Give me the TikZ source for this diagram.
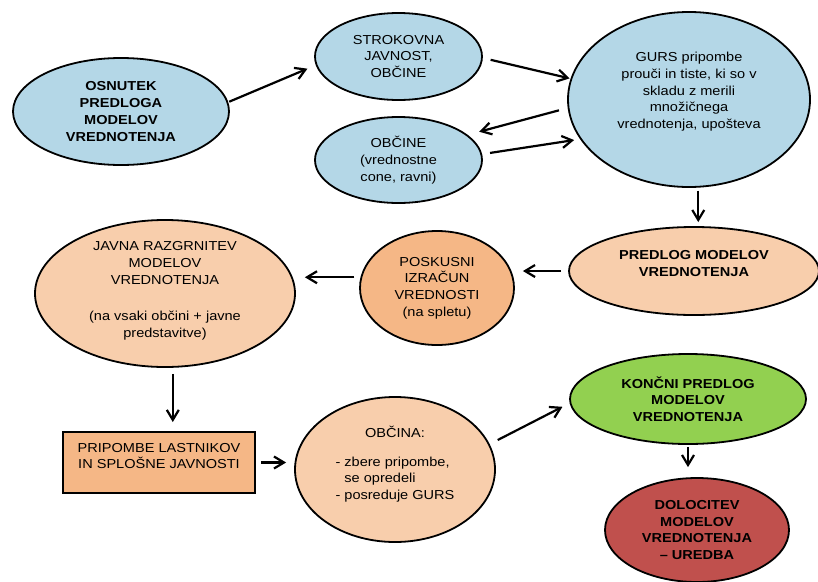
\documentclass[tikz,border=0pt]{standalone}
\usepackage{fontspec}
\setmainfont{Liberation Sans}[FakeStretch=1.12]
\usetikzlibrary{shapes.geometric,arrows.meta}

\definecolor{lightblue}{RGB}{180,215,231}
\definecolor{peach}{RGB}{248,206,172}
\definecolor{apricot}{RGB}{245,183,134}
\definecolor{leafgreen}{RGB}{146,208,80}
\definecolor{brickred}{RGB}{192,80,77}

\begin{document}
\begin{tikzpicture}[x=1pt,y=-1pt,
  font=\fontsize{13}{16.7}\selectfont,
  heavy/.style={font=\fontsize{13}{16.7}\selectfont\bfseries},
  blob/.style={ellipse,draw=black,line width=1.8pt,inner sep=0pt,align=center},
  arrow/.style={line width=2.2pt,-{Straight Barb[length=10pt,width=12pt]}}]
\useasboundingbox (0,0) rectangle (818,581);

% Draft and first comments
\node[blob,heavy,fill=lightblue,minimum width=216,minimum height=107] (osnutek) at (121,111.5) {OSNUTEK\\PREDLOGA\\MODELOV\\VREDNOTENJA};
\node[blob,fill=lightblue,minimum width=167,minimum height=87] (strokovna) at (398.5,56.5) {STROKOVNA\\JAVNOST,\\OBČINE};
\node[blob,fill=lightblue,minimum width=167,minimum height=86] (obcine) at (398.5,160) {OBČINE\\(vrednostne\\cone, ravni)};
\node[blob,fill=lightblue,minimum width=242,minimum height=175,text depth=18pt] (gurs) at (689,99.5) {GURS pripombe\\prouči in tiste, ki so v\\skladu z merili\\množičnega\\vrednotenja, upošteva};

% Proposal and public display
\node[blob,heavy,fill=peach,minimum width=250,minimum height=88,text depth=15pt] (predlog) at (694,271) {PREDLOG MODELOV\\VREDNOTENJA};
\node[blob,fill=apricot,minimum width=154,minimum height=114] (poskusni) at (437,288) {POSKUSNI\\IZRAČUN\\VREDNOSTI\\(na spletu)};
\node[blob,fill=peach,minimum width=260,minimum height=147,text depth=8pt] (razgrnitev) at (165,293.5) {JAVNA RAZGRNITEV\\MODELOV\\VREDNOTENJA\\[20pt](na vsaki občini + javne\\predstavitve)};

% Comments and final decision
\node[draw=black,line width=2pt,fill=apricot,minimum width=192,minimum height=61,inner sep=0pt,align=center,text depth=13pt] (pripombe) at (159,462.5) {PRIPOMBE LASTNIKOV\\IN SPLOŠNE JAVNOSTI};
\node[blob,fill=peach,minimum width=200,minimum height=145,text depth=47pt] (obcina) at (395,469.5) {OBČINA:\\[12pt]\begin{tabular}[t]{@{}l@{}}- zbere pripombe,\\\hphantom{- }se opredeli\\- posreduje GURS\end{tabular}};
\node[blob,heavy,fill=leafgreen,minimum width=236,minimum height=90] (koncni) at (688,399) {KONČNI PREDLOG\\MODELOV\\VREDNOTENJA};
\node[blob,heavy,fill=brickred,minimum width=184,minimum height=104] (dolocitev) at (697,530) {DOLOCITEV\\MODELOV\\VREDNOTENJA\\– UREDBA};

% Connectors
\draw[arrow,shorten <=1pt,shorten >=9pt] (osnutek.5) -- (strokovna.186);
\draw[arrow,shorten <=8pt,shorten >=1pt] (strokovna.-1) -- (gurs.170);
\draw[arrow,shorten <=9pt,shorten >=12pt] (gurs.184) -- (obcine.20);
\draw[arrow,shorten <=8pt,shorten >=6pt] (obcine.4) -- (gurs.200);
\draw[arrow,shorten <=3pt,shorten >=4pt] (gurs.-84) -- (gurs.-84 |- predlog.north);
\draw[arrow,shorten <=7pt,shorten >=8pt] (predlog.west) -- (predlog.west -| poskusni.east);
\draw[arrow,shorten <=6pt,shorten >=9pt] (poskusni.172) -- (poskusni.172 -| razgrnitev.east);
\draw[arrow,shorten <=6pt,shorten >=9pt] (razgrnitev.-84) -- (razgrnitev.-84 |- pripombe.north);
\draw[arrow,shorten <=5pt,shorten >=8pt] (pripombe.east) -- (pripombe.east -| obcina.west);
\draw[arrow,shorten <=9pt,shorten >=8pt] (obcina.15) -- (koncni.182);
\draw[arrow,shorten <=2pt,shorten >=10pt] (koncni.south) -- (koncni.south |- dolocitev.north);
\end{tikzpicture}
\end{document}
